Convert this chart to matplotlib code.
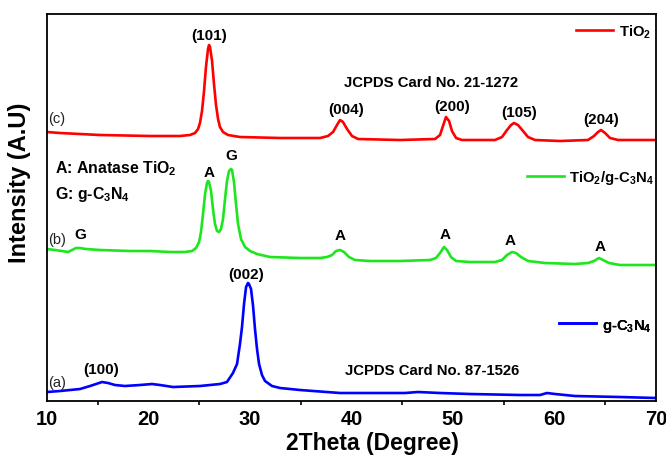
import matplotlib
matplotlib.use("Agg")
import matplotlib.pyplot as plt
from matplotlib.ticker import MultipleLocator

plt.rcParams['font.family'] = ['Liberation Sans', 'DejaVu Sans']
plt.rcParams['mathtext.default'] = 'regular'

# XRD patterns (2theta in degrees, stacked intensity in a.u.)
tio2_2theta = [10.0, 11.28, 15.22, 20.15, 23.10, 24.09, 24.58, 24.88, 25.07, 25.27,
               25.47, 25.66, 25.86, 25.96, 26.06, 26.26, 26.45, 26.65, 26.85, 27.04,
               27.34, 27.83, 29.01, 32.96, 36.90, 37.68, 38.18, 38.57, 38.87, 39.16,
               39.56, 40.05, 40.64, 44.78, 48.23, 48.72, 49.01, 49.31, 49.61, 49.90,
               50.30, 50.89, 54.14, 54.83, 55.32, 55.72, 56.01, 56.40, 56.90, 57.39,
               58.08, 60.54, 63.30, 63.89, 64.29, 64.58, 64.98, 65.47, 66.26, 70.0]
tio2_int = [269, 268, 266, 265, 265, 266, 268, 272, 278, 290,
            310, 334, 352, 356, 354, 340, 317, 296, 282, 274,
            269, 266, 264, 263, 263, 265, 269, 276, 281, 279,
            272, 265, 262, 261, 262, 266, 275, 284, 280, 270,
            263, 261, 261, 264, 271, 276, 278, 276, 270, 264,
            261, 260, 261, 265, 269, 271, 268, 263, 261, 261]

comp_2theta = [10.0, 10.79, 11.48, 12.07, 12.46, 12.86, 13.25, 13.84, 15.22, 18.18,
               20.15, 22.12, 23.60, 24.29, 24.68, 24.98, 25.17, 25.37, 25.57, 25.76,
               25.86, 25.96, 26.16, 26.35, 26.55, 26.75, 26.95, 27.14, 27.34, 27.54,
               27.73, 27.93, 28.13, 28.23, 28.42, 28.62, 28.82, 29.11, 29.51, 30.00,
               30.69, 31.97, 34.93, 36.90, 37.59, 38.08, 38.47, 38.87, 39.26, 39.75,
               40.34, 41.82, 44.78, 47.73, 48.32, 48.72, 49.11, 49.41, 49.80, 50.30,
               51.67, 54.14, 54.83, 55.32, 55.81, 56.21, 56.70, 57.39, 59.06, 62.02,
               63.30, 63.89, 64.38, 64.78, 65.37, 66.45, 70.0]
comp_int = [152, 151, 150, 149, 151, 153, 153, 152, 151, 150,
            150, 149, 149, 150, 153, 159, 169, 187, 207, 218,
            220, 219, 210, 192, 177, 170, 169, 172, 182, 202,
            220, 230, 232, 231, 219, 197, 177, 162, 154, 150,
            147, 144, 143, 143, 144, 146, 150, 151, 149, 144,
            141, 140, 140, 141, 143, 148, 154, 151, 144, 140,
            139, 139, 141, 146, 149, 148, 144, 140, 138, 137,
            138, 140, 143, 141, 138, 136, 136]

gcn_2theta = [10.0, 11.28, 13.25, 14.24, 14.83, 15.42, 16.01, 16.70, 17.68, 19.16,
              20.34, 21.13, 22.41, 25.07, 27.04, 27.73, 28.32, 28.72, 29.01, 29.21,
              29.41, 29.61, 29.80, 29.90, 30.10, 30.30, 30.49, 30.69, 30.89, 31.18,
              31.48, 32.17, 32.96, 34.93, 38.87, 42.81, 45.27, 46.55, 48.72, 51.67,
              56.60, 58.57, 59.26, 60.05, 62.02, 66.45, 70.0]
gcn_int = [9, 10, 12, 15, 17, 19, 18, 16, 15, 16,
           17, 16, 14, 15, 17, 19, 28, 37, 57, 74,
           97, 114, 118, 117, 112, 95, 72, 52, 37, 26,
           20, 15, 13, 11, 8, 8, 8, 9, 8, 7,
           6, 6, 8, 7, 5, 4, 3]

series = [
    (tio2_2theta, tio2_int, '#ff0000', 'TiO$_2$'),
    (comp_2theta, comp_int, '#1ee61e', 'TiO$_2$/g-C$_3$N$_4$'),
    (gcn_2theta, gcn_int, '#0000ff', 'g-C$_3$N$_4$'),
]

fig = plt.figure(figsize=(6.66, 4.56), dpi=100)
ax = fig.add_axes([0.0706, 0.1184, 0.9144, 0.8487])

lines = []
for x, y, c, lab in series:
    ln, = ax.plot(x, y, color=c, lw=1.9, label=lab, solid_joinstyle='round')
    lines.append(ln)

ax.set_xlim(10, 70)
ax.set_ylim(0, 387)
ax.xaxis.set_major_locator(MultipleLocator(10))
ax.xaxis.set_minor_locator(MultipleLocator(5))
ax.tick_params(axis='x', which='major', length=0, pad=6, labelsize=14.5)
ax.tick_params(axis='x', which='minor', direction='out', length=3, width=1.2)
ax.set_yticks([])
for lbl in ax.get_xticklabels():
    lbl.set_fontweight('bold')
for sp in ax.spines.values():
    sp.set_linewidth(1.3)

ax.set_xlabel('2Theta (Degree)', fontsize=16.5, fontweight='bold')
ax.set_ylabel('Intensity (A.U)', fontsize=17, fontweight='bold')
ax.xaxis.set_label_coords(0.534, -0.077)
ax.yaxis.set_label_coords(-0.027, 0.566)

# separate legend for each pattern
legend_pos = [(0.869, 0.956), (0.788, 0.579), (0.841, 0.196)]
for ln, pos in zip(lines, legend_pos):
    leg = ax.legend(handles=[ln], loc='center left', bbox_to_anchor=pos,
                    frameon=False, borderpad=0, borderaxespad=0,
                    handlelength=2.5, handletextpad=0.35,
                    prop={'weight': 'bold', 'size': 10.7})
    ax.add_artist(leg)

bold = dict(fontsize=11, fontweight='bold', ha='center', va='center')
# TiO2 peaks
ax.text(25.96, 366, '(101)', **bold)
ax.text(39.46, 292, '(004)', **bold)
ax.text(49.9, 295, '(200)', **bold)
ax.text(56.5, 289, '(105)', **bold)
ax.text(64.58, 282, '(204)', **bold)
ax.text(47.8, 319, 'JCPDS Card No. 21-1272', fontsize=10.7, fontweight='bold',
        ha='center', va='center')
# composite peaks
ax.text(25.96, 229, 'A', **bold)
ax.text(28.13, 246, 'G', **bold)
ax.text(13.25, 167, 'G', **bold)
for xa, ya in [(38.87, 166), (49.21, 167), (55.61, 161), (64.48, 155)]:
    ax.text(xa, ya, 'A', **bold)
ax.text(10.79, 233, 'A: Anatase TiO$_2$', fontsize=11.4, fontweight='bold', va='center')
ax.text(10.79, 208, 'G: g-C$_3$N$_4$', fontsize=11.4, fontweight='bold', va='center')
# g-C3N4 peaks
ax.text(29.6, 127, '(002)', **bold)
ax.text(15.32, 32, '(100)', **bold)
ax.text(47.93, 31, 'JCPDS Card No. 87-1526', fontsize=10.7, fontweight='bold',
        ha='center', va='center')

for lab, yv in [('(c)', 283), ('(b)', 162), ('(a)', 19)]:
    ax.text(10.15, yv, lab, fontsize=10.5, va='center', ha='left', color='#222222')

fig.savefig('out.png', dpi=100)
